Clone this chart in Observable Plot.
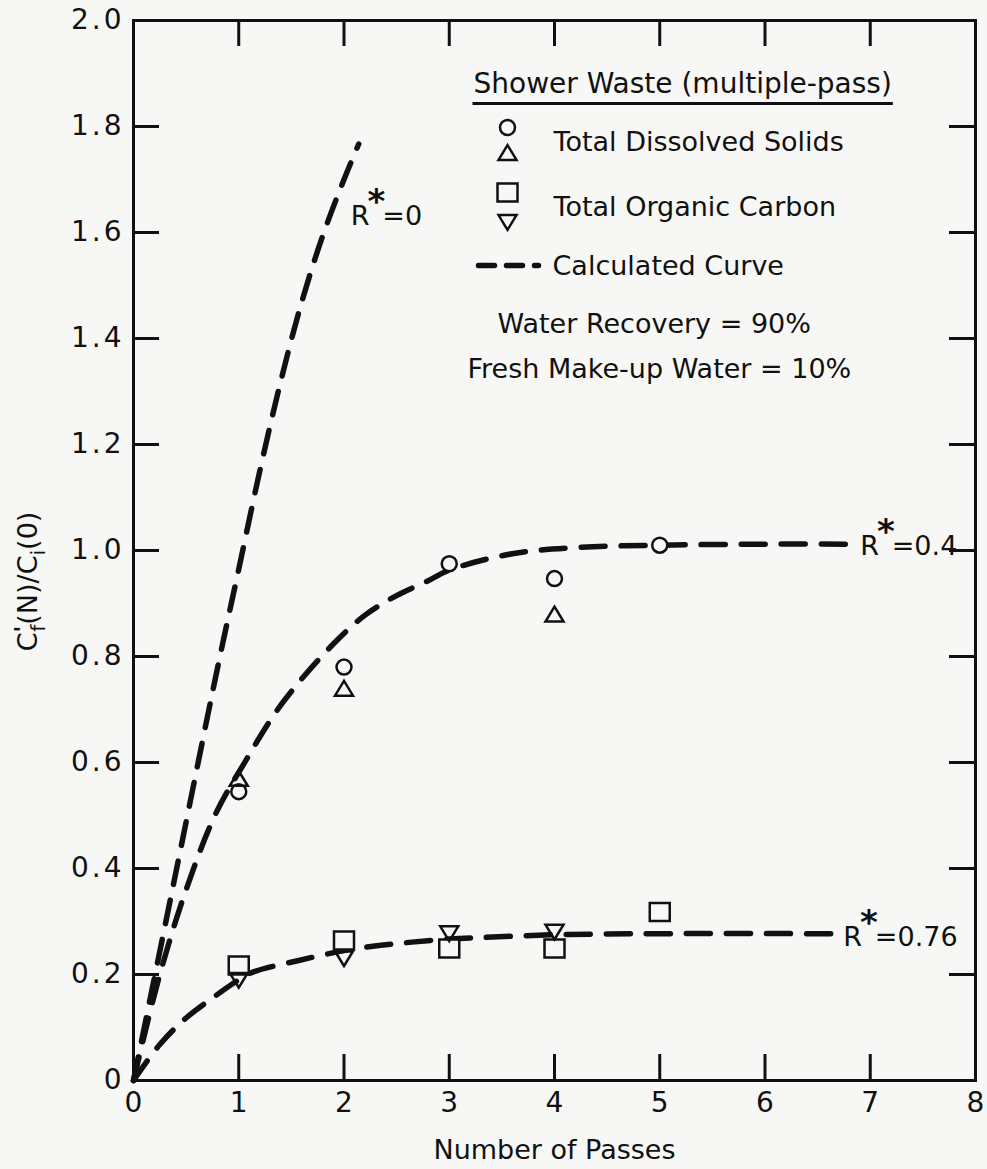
<!DOCTYPE html>
<html>
<head>
<meta charset="utf-8">
<script src="https://cdn.jsdelivr.net/npm/d3@7"></script>
<script src="https://cdn.jsdelivr.net/npm/@observablehq/plot@0.6"></script>
<style>
  body { margin: 0; background: #f7f7f5; }
  #chart svg { display: block; }
  g.ytick text { letter-spacing: 3px; }
</style>
</head>
<body>
<div id="chart"></div>
<script>
// ---- measured concentration ratios, by pass number ----
const tdsCirclePasses   = [1, 2, 3, 4, 5];
const tdsCircle         = [0.545, 0.78, 0.975, 0.947, 1.01];
const tdsTrianglePasses = [1, 2, 4];
const tdsTriangle       = [0.57, 0.74, 0.88];
const tocSquarePasses   = [1, 2, 3, 4, 5];
const tocSquare         = [0.217, 0.264, 0.249, 0.249, 0.318];
const tocTrianglePasses = [1, 2, 3, 4];
const tocTriangle       = [0.189, 0.230, 0.277, 0.280];

// ---- calculated curves ----
const curveR0X   = [0, 0.4, 0.8, 1.0, 1.2, 1.4, 1.6, 1.8, 2.0, 2.14];
const curveR0Y   = [0, 0.39, 0.78, 0.965, 1.15, 1.32, 1.47, 1.595, 1.70, 1.767];
const curveR04X  = [0, 0.25, 0.5, 0.78, 1.05, 1.41, 1.9, 2.2, 2.5, 2.8, 3.0, 3.6, 4.25, 5, 6, 6.8];
const curveR04Y  = [0, 0.2, 0.36, 0.503, 0.598, 0.711, 0.824, 0.878, 0.915, 0.943, 0.963, 0.994, 1.006, 1.01, 1.012, 1.012];
const curveR076X = [0, 0.25, 0.5, 0.76, 1.0, 1.14, 1.56, 2.0, 2.35, 3.0, 3.33, 4, 5, 6.63];
const curveR076Y = [0, 0.068, 0.118, 0.157, 0.19, 0.205, 0.226, 0.245, 0.255, 0.267, 0.270, 0.275, 0.277, 0.277];

const curveNames = ["R*=0", "R*=0.4", "R*=0.76"];

// ---- axes ----
const xTicks = [0, 1, 2, 3, 4, 5, 6, 7, 8];
const yTicks = [0, 0.2, 0.4, 0.6, 0.8, 1.0, 1.2, 1.4, 1.6, 1.8, 2.0];
const xTitle = "Number of Passes";
const yTitle = "C′f(N)/Ci(0)";

// ---- legend text ----
const legendHeading = "Shower Waste (multiple-pass)";
const legendTDS = "Total Dissolved Solids";
const legendTOC = "Total Organic Carbon";
const legendCurve = "Calculated Curve";
const noteRecovery = "Water Recovery = 90%";
const noteMakeup = "Fresh Make-up Water = 10%";

// ---- build tables ----
const zip = (xs, ys) => xs.map((x, i) => ({x, y: ys[i]}));
const curves = [
  zip(curveR0X, curveR0Y),
  zip(curveR04X, curveR04Y),
  zip(curveR076X, curveR076Y)
];

// ---- open marker shapes ----
const rad = size => Math.sqrt(size / Math.PI);
const ring = {draw(c, size) { const r = rad(size); c.moveTo(r, 0); c.arc(0, 0, r, 0, 2 * Math.PI); c.closePath(); }};
const triUp = {draw(c, size) { const r = rad(size); c.moveTo(0, -0.82 * r); c.lineTo(r, 0.82 * r); c.lineTo(-r, 0.82 * r); c.closePath(); }};
const triDown = {draw(c, size) { const r = rad(size); c.moveTo(0, 0.82 * r); c.lineTo(r, -0.82 * r); c.lineTo(-r, -0.82 * r); c.closePath(); }};
const box = {draw(c, size) { const r = rad(size); c.rect(-r, -0.9 * r, 2 * r, 1.8 * r); }};
const dashSample = {draw(c) { c.moveTo(-30, 0); c.lineTo(30, 0); }};

// ---- layout ----
const W = 987, H = 1169;
const mT = 20, mR = 12, mB = 89, mL = 133;
const innerW = W - mL - mR, innerH = H - mT - mB;
const tick = 26;
const font = "DejaVu Sans";
const ink = "#111";
const paper = "#f7f7f5";
const dash = "24,16";

// legend placed from the frame's top-left corner (px)
const at = (px, py) => ({frameAnchor: "top-left", dx: px - mL, dy: py - mT});
const legendText = (s, px, py, extra = {}) =>
  Plot.text([s], {...at(px, py), text: d => d, textAnchor: "start", lineAnchor: "middle", fontSize: 27, fill: ink, ...extra});
const legendDot = (symbol, r, px, py, fill) =>
  Plot.dot([0], {...at(px, py), symbol, r, stroke: ink, strokeWidth: 2.5, fill});

const markerStyle = {stroke: ink, strokeWidth: 2.5};

const chart = Plot.plot({
  width: W, height: H,
  marginTop: mT, marginRight: mR, marginBottom: mB, marginLeft: mL,
  style: {background: paper, fontFamily: font, color: ink},
  x: {domain: [0, 8]},
  y: {domain: [0, 2]},
  marks: [
    // inward ticks on all four sides
    Plot.ruleX(xTicks.slice(1, -1), {x: d => d, insetTop: innerH - tick, stroke: ink, strokeWidth: 3}),
    Plot.ruleX(xTicks.slice(1, -1), {x: d => d, insetBottom: innerH - tick, stroke: ink, strokeWidth: 3}),
    Plot.ruleY(yTicks.slice(1, -1), {y: d => d, insetRight: innerW - tick, stroke: ink, strokeWidth: 3}),
    Plot.ruleY(yTicks.slice(1, -1), {y: d => d, insetLeft: innerW - tick, stroke: ink, strokeWidth: 3}),
    Plot.frame({stroke: ink, strokeWidth: 3}),

    Plot.axisX(xTicks, {anchor: "bottom", tickSize: 0, tickPadding: 12, fontSize: 28, label: null, tickFormat: d => String(d), fill: ink}),
    Plot.axisY(yTicks, {anchor: "left", tickSize: 0, tickPadding: 9, fontSize: 28, label: null, className: "ytick",
      tickFormat: d => d === 0 ? "0" : d.toFixed(1), fill: ink}),

    Plot.text([xTitle], {frameAnchor: "bottom", dy: 70, lineAnchor: "middle", text: d => d, fontSize: 27, fill: ink}),
    Plot.text([yTitle], {frameAnchor: "left", dx: -105, dy: 31, rotate: -90, textAnchor: "middle", lineAnchor: "middle",
      text: d => d, fontSize: 27, fill: ink, className: "ytitle"}),

    // calculated curves
    ...curves.map(c => Plot.line(c, {x: "x", y: "y", curve: "catmull-rom", stroke: ink, strokeWidth: 5.5,
      strokeDasharray: dash, strokeLinecap: "round"})),

    // curve labels, from each curve's end point
    Plot.text([curves[0].at(-1)], {x: "x", y: "y", text: () => curveNames[0], dx: -8, dy: 72, textAnchor: "start", fontSize: 27, fill: ink, className: "rlabel"}),
    Plot.text([curves[1].at(-1)], {x: "x", y: "y", text: () => curveNames[1], dx: 11, dy: 2, textAnchor: "start", fontSize: 27, fill: ink, className: "rlabel"}),
    Plot.text([curves[2].at(-1)], {x: "x", y: "y", text: () => curveNames[2], dx: 12, dy: 4, textAnchor: "start", fontSize: 27, fill: ink, className: "rlabel"}),

    // measurements
    Plot.dot(zip(tocSquarePasses, tocSquare), {x: "x", y: "y", symbol: box, r: 10, fill: paper, ...markerStyle}),
    Plot.dot(zip(tdsCirclePasses, tdsCircle), {x: "x", y: "y", symbol: ring, r: 7.5, fill: paper, ...markerStyle}),
    Plot.dot(zip(tdsTrianglePasses, tdsTriangle), {x: "x", y: "y", symbol: triUp, r: 9, fill: "none", ...markerStyle}),
    Plot.dot(zip(tocTrianglePasses, tocTriangle), {x: "x", y: "y", symbol: triDown, r: 9, fill: "none", ...markerStyle}),

    // legend
    legendText(legendHeading, 473, 84, {className: "heading", fontSize: 28, style: "word-spacing: 10px"}),
    legendDot(ring, 7.5, 507, 127, "none"),
    legendDot(triUp, 9, 507, 152, "none"),
    legendText(legendTDS, 553, 142),
    legendDot(box, 10, 507, 192, "none"),
    legendDot(triDown, 9, 507, 222, "none"),
    legendText(legendTOC, 553, 207),
    Plot.dot([0], {...at(508, 265), symbol: dashSample, stroke: ink, strokeWidth: 5.5, strokeDasharray: "16,12", strokeLinecap: "round"}),
    legendText(legendCurve, 552, 266),
    legendText(noteRecovery, 497, 324),
    legendText(noteMakeup, 467, 369)
  ]
});

// rich text: superscript stars and subscripts
const NS = "http://www.w3.org/2000/svg";
function span(text, attrs) {
  const t = document.createElementNS(NS, "tspan");
  t.textContent = text;
  for (const k in attrs) t.setAttribute(k, attrs[k]);
  return t;
}
chart.querySelectorAll("g.rlabel text").forEach(t => {
  const [a, b] = t.textContent.split("*");
  t.textContent = "";
  t.append(span(a, {}), span("*", {"font-size": "34px", "font-weight": "bold", dx: "-2px", dy: "-12px"}), span(b, {dx: "-3px", dy: "12px"}));
});
chart.querySelectorAll("g.ytitle text").forEach(t => {
  t.textContent = "";
  t.append(
    span("C", {}),
    span("'", {"font-size": "22px", "font-weight": "bold", dy: "-7px"}),
    span("f", {"font-size": "20px", dx: "-6px", dy: "15px"}),
    span("(N)/C", {dy: "-8px"}),
    span("i", {"font-size": "20px", dy: "8px"}),
    span("(0)", {dy: "-8px"})
  );
});
document.getElementById("chart").append(chart);

// underline the legend heading across its full width
const head = chart.querySelector("g.heading text");
if (head) {
  const bb = head.getBBox();
  const line = document.createElementNS(NS, "line");
  line.setAttribute("x1", bb.x - 1);
  line.setAttribute("x2", bb.x + bb.width + 1);
  line.setAttribute("y1", bb.y + bb.height + 3);
  line.setAttribute("y2", bb.y + bb.height + 3);
  line.setAttribute("stroke", ink);
  line.setAttribute("stroke-width", 3);
  const tr = head.getAttribute("transform");
  if (tr) line.setAttribute("transform", tr);
  head.parentNode.append(line);
}
</script>
</body>
</html>
